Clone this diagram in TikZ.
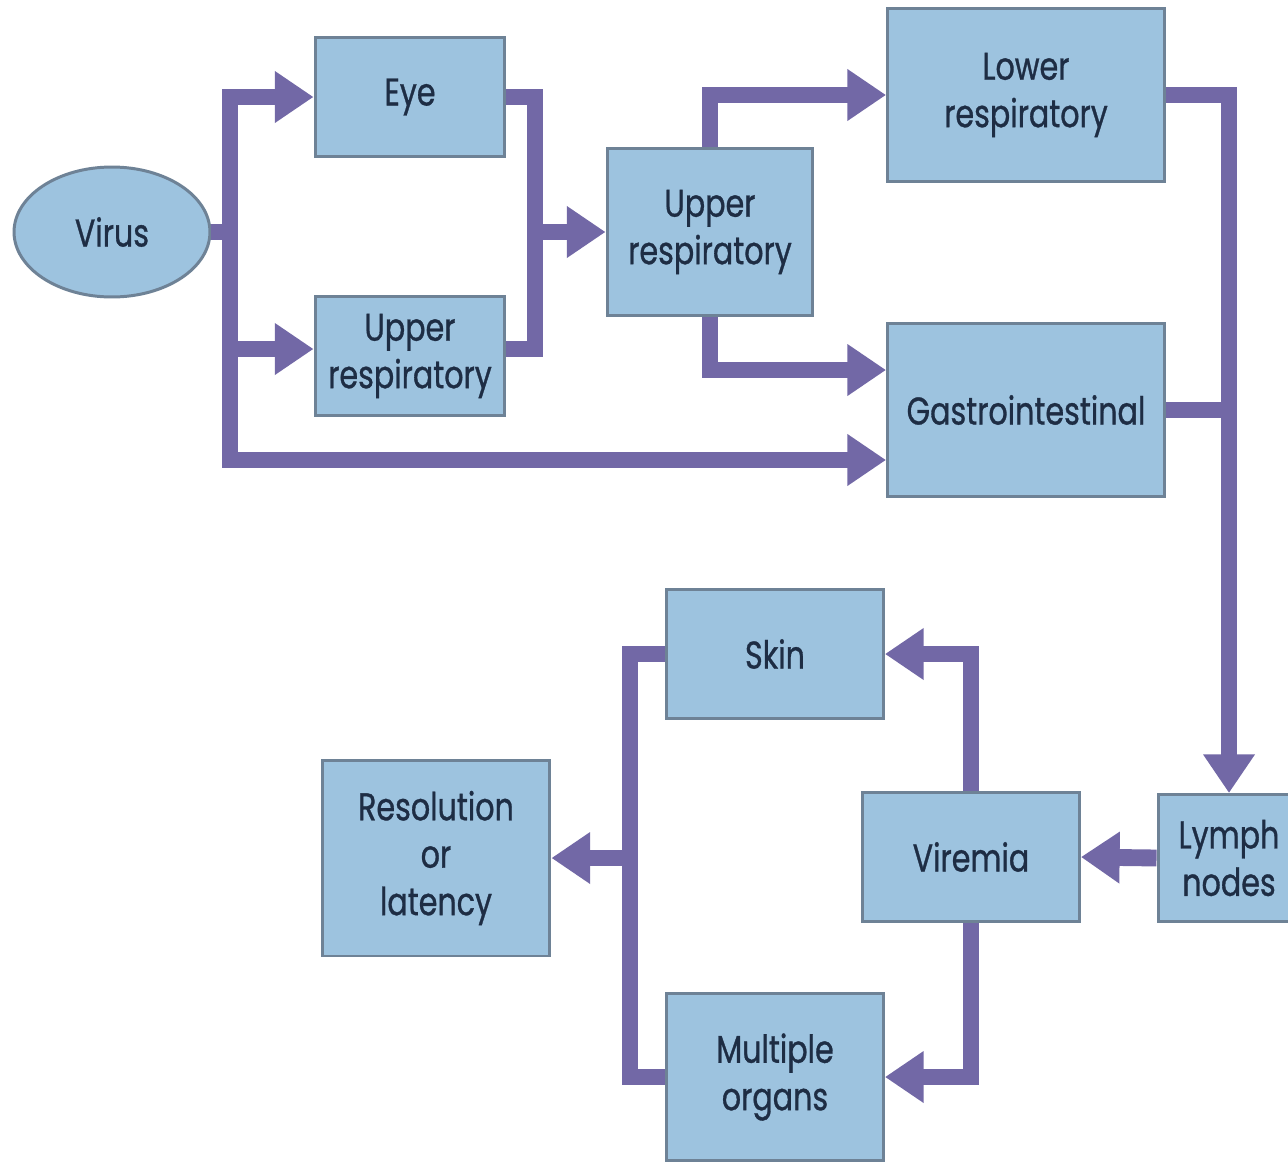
\documentclass[tikz,border=0pt]{standalone}
\usepackage{fontspec}
\setmainfont{Poppins}[FakeStretch=0.78, FakeBold=0.8]
\usetikzlibrary{arrows.meta,shapes.geometric}
\definecolor{boxfill}{HTML}{9DC3DF}
\definecolor{boxline}{HTML}{6E8296}
\definecolor{pipecol}{HTML}{7268A6}
\definecolor{txtcol}{HTML}{1E2D44}
\begin{document}
\begin{tikzpicture}[x=0.02cm, y=-0.02cm, line join=miter,
	box/.style={draw=boxline, line width=1.7pt, fill=boxfill, text=txtcol, align=center,
		inner sep=0pt, font=\fontsize{22}{27}\selectfont},
	pipe/.style={draw=pipecol, line width=9.6pt},
	arr/.style={pipe, -{Triangle[length=22pt, width=28pt]}}]
	\useasboundingbox[fill=white] (0,0) rectangle (1288,1163);
	% nodes
	\node[box, ellipse, minimum width=3.92cm, minimum height=2.6cm] (virus) at (112,232) {Virus};
	\node[box, minimum width=3.8cm, minimum height=2.38cm] (eye) at (410,97) {Eye};
	\node[box, minimum width=3.8cm, minimum height=2.38cm] (uresp1) at (410,356) {Upper\\respiratory};
	\node[box, minimum width=4.12cm, minimum height=3.36cm] (uresp2) at (710,232) {Upper\\respiratory};
	\node[box, minimum width=5.54cm, minimum height=3.46cm] (lresp) at (1026,95) {Lower\\respiratory};
	\node[box, minimum width=5.54cm, minimum height=3.48cm] (gastro) at (1026,410) {Gastrointestinal};
	\node[box, minimum width=2.84cm, minimum height=2.54cm] (lymph) at (1229,858) {Lymph\\nodes};
	\node[box, minimum width=4.34cm, minimum height=2.58cm] (viremia) at (971,857) {Viremia};
	\node[box, minimum width=4.34cm, minimum height=2.58cm] (skin) at (775,654) {Skin};
	\node[box, minimum width=4.34cm, minimum height=3.34cm] (multi) at (775,1077) {Multiple\\organs};
	\node[box, minimum width=4.56cm, minimum height=3.92cm] (resol) at (436,858) {Resolution\\or\\latency};
	% junctions
	\coordinate (vt) at (230,232);
	\coordinate (mj) at (535,232);
	\coordinate (sj) at (630,858);
	\coordinate (glow) at ([yshift=-1cm]gastro.west);
	\coordinate (ghigh) at ([yshift=0.8cm]gastro.west);
	\coordinate (uin) at ([yshift=0.14cm]uresp1.west);
	% connectors
	\draw[pipe] (virus.east) -- (vt);
	\draw[arr] (vt |- glow) -- (vt |- eye.west) -- (eye.west);
	\draw[arr, line cap=rect] (vt |- glow) -- (glow);
	\draw[arr] (vt |- uin) -- (uin);
	\draw[pipe] (eye.east) -- (eye.east -| mj) -- (uin -| mj) -- (uin -| uresp1.east);
	\draw[arr] (mj) -- (uresp2.west);
	\draw[arr] (uresp2.north) -- (uresp2.north |- lresp.west) -- (lresp.west);
	\draw[arr] (uresp2.south) -- (uresp2.south |- ghigh) -- (ghigh);
	\draw[arr] (lresp.east) -- (lresp.east -| lymph.north) -- (lymph.north);
	\draw[pipe] (gastro.east) -- (gastro.east -| lymph.north);
	\draw[arr] (lymph.west) -- (viremia.east);
	\draw[arr] (viremia.north) -- (viremia.north |- skin.east) -- (skin.east);
	\draw[arr] (viremia.south) -- (viremia.south |- multi.east) -- (multi.east);
	\draw[pipe] (skin.west) -- (skin.west -| sj) -- (multi.west -| sj) -- (multi.west);
	\draw[arr] (sj) -- (resol.east);
\end{tikzpicture}
\end{document}
